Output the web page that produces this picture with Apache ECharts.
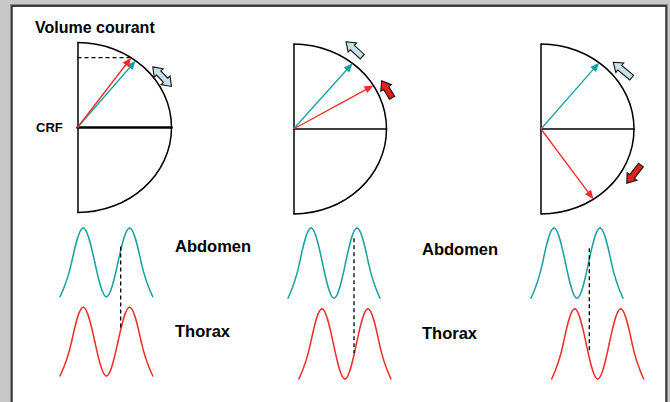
<!DOCTYPE html>
<html>
<head>
<meta charset="utf-8">
<script src="https://cdn.jsdelivr.net/npm/echarts@6/dist/echarts.min.js"></script>
<style>
  html, body { margin: 0; padding: 0; background: #c8c8c8; }
  #chart { width: 670px; height: 402px; }
</style>
</head>
<body>
<div id="chart"></div>
<script>
// ---------- DATA ----------
// phase steps in quarter periods
const phaseSteps = [0, 1, 2, 3, 4, 5, 6, 7, 8];
// normalised breathing traces read at the quarter-period points
const abdomenWave = [-1, 0, 1, 0, -1, 0, 1, 0, -1];
const thoraxWave  = [-1, 0, 1, 0, -1, 0, 1, 0, -1];
// lag of the thorax trace behind the abdomen trace, per panel (quarter periods)
const thoraxLag = [0, 0.95, 1.8];
// vector angles on the half-disc (degrees), per panel
const abdomenAngle = [51.8, 50.6, 51.3];
const thoraxAngle  = [55.2, 30.8, -55.7];
// dashed cursor between the traces: time, abdomen level, thorax level
const cursorTime    = [5.23, 5.74, 5.07];
const cursorAbdomen = [0.46, 0.71, 0.42];
const cursorThorax  = [0.36, -0.27, -0.27];
// motion arrows: [angle on disc (deg), radius, direction (deg), length, doubleHeaded]
const abdomenMotion = [[33.6, 1.081, 133.5, 27, 1], [55.2, 1.143, 137.4, 22, 0], [38.4, 1.118, 140, 24, 0]];
const thoraxMotion  = [null, [25, 1.108, 121.2, 20, 0], [-28, 1.131, -128, 23, 0]];
// texts
const titleText = 'Volume courant';
const crfText = 'CRF';
const traceLabels = ['Abdomen', 'Thorax'];

// ---------- LAYOUT / STYLE ----------
const DIAL = [
  { cx: 77.5, cy: 127.5, rx: 94, ry: 85, axisW: 2.6 },
  { cx: 293.5, cy: 129, rx: 93, ry: 85, axisW: 1.5 },
  { cx: 541, cy: 129, rx: 93, ry: 85, axisW: 1.5 }
];
const WAVE = [
  { left: 60, top: 228, bottom: 376, unit: 11.6 },
  { left: 288, top: 228, bottom: 379, unit: 11.5 },
  { left: 531, top: 228, bottom: 379, unit: 11.5 }
];
const STRIP_GAP = 2.3;
const TIME_SPAN = 10;
const SINE_TANGENT = Math.PI / 2;   // curve tension so that the trace bends like a sine
const TEAL = '#17a0a0';
const RED = '#f02c2c';
const LIGHT_BLUE = '#c4e2e6';
const BLOCK_RED = '#e3201e';
const FONT = '"Liberation Sans", Arial, Helvetica, sans-serif';

const chart = echarts.init(document.getElementById('chart'), null, { renderer: 'svg' });

const grids = [], xAxes = [], yAxes = [], series = [];
const hidden = { show: false };

DIAL.forEach((d, i) => {
  grids.push({ left: d.cx, top: d.cy - d.ry, width: d.rx, height: 2 * d.ry, containLabel: false });
  xAxes.push({ gridIndex: i, type: 'value', min: 0, max: 1,
    axisLine: { show: true, onZero: true, lineStyle: { color: '#000', width: d.axisW } },
    axisTick: hidden, axisLabel: hidden, splitLine: hidden });
  yAxes.push({ gridIndex: i, type: 'value', min: -1, max: 1,
    axisLine: { show: true, onZero: true, lineStyle: { color: '#000', width: 1.5 } },
    axisTick: hidden, axisLabel: hidden, splitLine: hidden });
});
WAVE.forEach((w, i) => {
  grids.push({ left: w.left, top: w.top, width: w.unit * TIME_SPAN, height: w.bottom - w.top });
  xAxes.push({ gridIndex: 3 + i, type: 'value', min: 0, max: TIME_SPAN, show: false });
  yAxes.push({ gridIndex: 3 + i, type: 'value', min: -1, max: 1 + STRIP_GAP, show: false });
});

// half-disc outline
function outlineItem(params, api) {
  const c = api.coord([0, 0]), r = api.coord([1, 0]), t = api.coord([0, 1]), b = api.coord([0, -1]);
  const rx = r[0] - c[0], ryT = c[1] - t[1], ryB = b[1] - c[1], k = 0.5523;
  const st = { stroke: '#000', lineWidth: 1.5, fill: null };
  return { type: 'group', children: [
    { type: 'bezierCurve', shape: { x1: c[0], y1: t[1], cpx1: c[0] + k * rx, cpy1: t[1], cpx2: r[0], cpy2: c[1] - k * ryT, x2: r[0], y2: c[1] }, style: st },
    { type: 'bezierCurve', shape: { x1: r[0], y1: c[1], cpx1: r[0], cpy1: c[1] + k * ryB, cpx2: c[0] + k * rx, cpy2: b[1], x2: c[0], y2: b[1] }, style: st }
  ] };
}
// phase vector with arrow head
function vectorItem(params, api) {
  const phi = api.value(0) * Math.PI / 180;
  const color = api.value(1) ? RED : TEAL;
  const o = api.coord([0, 0]);
  const e = api.coord([Math.cos(phi), Math.sin(phi)]);
  const dx = e[0] - o[0], dy = e[1] - o[1], L = Math.hypot(dx, dy);
  const ux = dx / L, uy = dy / L, hl = 9, hw = 3.8;
  const bx = e[0] - ux * hl, by = e[1] - uy * hl;
  return { type: 'group', children: [
    { type: 'line', shape: { x1: o[0], y1: o[1], x2: bx + ux * 2, y2: by + uy * 2 }, style: { stroke: color, lineWidth: 1.3 } },
    { type: 'polygon', shape: { points: [[e[0], e[1]], [bx - uy * hw, by + ux * hw], [bx + uy * hw, by - ux * hw]] }, style: { fill: color } }
  ] };
}
// block arrow showing motion direction
function motionItem(fill) {
  return function (params, api) {
    const phi = api.value(0) * Math.PI / 180, rad = api.value(1);
    const th = api.value(2) * Math.PI / 180, len = api.value(3), dbl = api.value(4);
    const c = api.coord([rad * Math.cos(phi), rad * Math.sin(phi)]);
    const ux = Math.cos(th), uy = -Math.sin(th), nx = -uy, ny = ux;
    const bw = 3, hw = 6.2, hl = 8.5;
    const P = (a, n) => [c[0] + ux * a + nx * n, c[1] + uy * a + ny * n];
    const h = len / 2;
    let pts;
    if (dbl) {
      pts = [P(h, 0), P(h - hl, hw), P(h - hl, bw), P(-h + hl, bw), P(-h + hl, hw), P(-h, 0),
             P(-h + hl, -hw), P(-h + hl, -bw), P(h - hl, -bw), P(h - hl, -hw)];
    } else {
      pts = [P(h, 0), P(h - hl, hw), P(h - hl, bw), P(-h, bw), P(-h, -bw), P(h - hl, -bw), P(h - hl, -hw)];
    }
    return { type: 'polygon', shape: { points: pts }, style: { fill: fill, stroke: '#111', lineWidth: 1.1, lineJoin: 'miter' } };
  };
}
// breathing trace: smooth cubic segments through the read points
function traceItem(points, color) {
  const n = points.length;
  const slope = points.map((p, k) => {
    const a = points[Math.max(0, k - 1)], b = points[Math.min(n - 1, k + 1)];
    return (b[1] - a[1]) / (b[0] - a[0]) * SINE_TANGENT;
  });
  // natural ends: no inflection in the first / last segment
  const sec = (a, b) => (points[b][1] - points[a][1]) / (points[b][0] - points[a][0]);
  slope[0] = (3 * sec(0, 1) - slope[1]) / 2;
  slope[n - 1] = (3 * sec(n - 2, n - 1) - slope[n - 2]) / 2;
  return function (params, api) {
    const k = params.dataIndex;
    if (k >= n - 1) return null;
    const [x0, y0] = points[k], [x1, y1] = points[k + 1], h = x1 - x0;
    const p0 = api.coord([x0, y0]), p1 = api.coord([x1, y1]);
    const c1 = api.coord([x0 + h / 3, y0 + slope[k] * h / 3]);
    const c2 = api.coord([x1 - h / 3, y1 - slope[k + 1] * h / 3]);
    return { type: 'bezierCurve',
      shape: { x1: p0[0], y1: p0[1], cpx1: c1[0], cpy1: c1[1], cpx2: c2[0], cpy2: c2[1], x2: p1[0], y2: p1[1] },
      style: { stroke: color, lineWidth: 1.5, fill: null, lineCap: 'round' } };
  };
}

DIAL.forEach((d, i) => {
  series.push({ type: 'custom', xAxisIndex: i, yAxisIndex: i, clip: false, silent: true,
    data: [[0]], renderItem: outlineItem, z: 3 });
  series.push({ type: 'custom', xAxisIndex: i, yAxisIndex: i, clip: false, silent: true,
    data: [[abdomenAngle[i], 0], [thoraxAngle[i], 1]], renderItem: vectorItem, z: 4 });
  series.push({ type: 'custom', xAxisIndex: i, yAxisIndex: i, clip: false, silent: true,
    data: [abdomenMotion[i]], renderItem: motionItem(LIGHT_BLUE), z: 4 });
  if (thoraxMotion[i]) {
    series.push({ type: 'custom', xAxisIndex: i, yAxisIndex: i, clip: false, silent: true,
      data: [thoraxMotion[i]], renderItem: motionItem(BLOCK_RED), z: 4 });
  }
});
// dashed level of the tidal volume on the first disc
(function () {
  const a = thoraxAngle[0] * Math.PI / 180;
  series.push({ type: 'line', xAxisIndex: 0, yAxisIndex: 0, clip: false, silent: true, showSymbol: false,
    data: [[0, Math.sin(a)], [Math.cos(a) + 0.02, Math.sin(a)]],
    lineStyle: { color: '#000', width: 1.2, type: [4, 3] }, z: 3 });
})();

WAVE.forEach((w, i) => {
  const g = 3 + i;
  const abd = phaseSteps.map((t, k) => [t, abdomenWave[k] + STRIP_GAP]);
  const thx = phaseSteps.map((t, k) => [t + thoraxLag[i], thoraxWave[k]]);
  series.push({ type: 'custom', xAxisIndex: g, yAxisIndex: g, clip: false, silent: true,
    data: abd, renderItem: traceItem(abd, TEAL), z: 3 });
  series.push({ type: 'custom', xAxisIndex: g, yAxisIndex: g, clip: false, silent: true,
    data: thx, renderItem: traceItem(thx, RED), z: 3 });
  series.push({ type: 'line', xAxisIndex: g, yAxisIndex: g, clip: false, silent: true, showSymbol: false,
    data: [[cursorTime[i], cursorAbdomen[i] + STRIP_GAP], [cursorTime[i], cursorThorax[i]]],
    lineStyle: { color: '#000', width: 1.3, type: [4, 3] }, z: 4 });
});

const txt = (s, x, y, size) => ({ type: 'text', x: x, y: y, z: 10,
  style: { text: s, font: 'bold ' + size + 'px ' + FONT, fill: '#000', verticalAlign: 'middle', align: 'left' } });

chart.setOption({
  backgroundColor: '#c8c8c8',
  animation: false,
  grid: grids,
  xAxis: xAxes,
  yAxis: yAxes,
  series: series,
  graphic: [
    { type: 'rect', z: -100, shape: { x: 12, y: 6, width: 654, height: 420 }, style: { fill: null, stroke: '#8a8a8a', lineWidth: 4 } },
    { type: 'rect', z: -99, shape: { x: 12, y: 6, width: 654, height: 420 }, style: { fill: '#ffffff', stroke: '#111', lineWidth: 1.3 } },
    txt(titleText, 35, 27, 16),
    txt(crfText, 36, 127.5, 13),
    txt(traceLabels[0], 175, 246, 16.5),
    txt(traceLabels[1], 175, 331, 16.5),
    txt(traceLabels[0], 422, 248.5, 16.5),
    txt(traceLabels[1], 422, 333, 16.5)
  ]
});
</script>
</body>
</html>
